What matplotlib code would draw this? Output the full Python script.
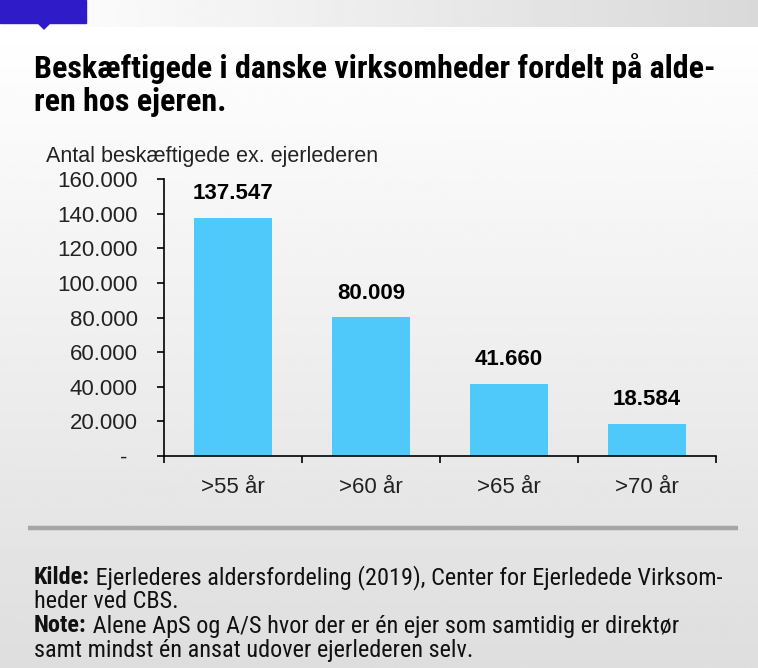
import matplotlib
matplotlib.use("Agg")
import matplotlib.pyplot as plt
import matplotlib.transforms as mtransforms
import numpy as np
from matplotlib.patches import Rectangle, Polygon
from matplotlib.ticker import FixedLocator

categories = [">55 år", ">60 år", ">65 år", ">70 år"]
values = [137547, 80009, 41660, 18584]
value_labels = ["137.547", "80.009", "41.660", "18.584"]
yticks = [0, 20000, 40000, 60000, 80000, 100000, 120000, 140000, 160000]
ytick_labels = ["-", "20.000", "40.000", "60.000", "80.000", "100.000", "120.000", "140.000", "160.000"]

W, H = 758, 668
fig = plt.figure(figsize=(W / 100, H / 100), dpi=100)

# background gradient
bg = fig.add_axes([0, 0, 1, 1], zorder=-10)
bg.set_xlim(0, W)
bg.set_ylim(H, 0)
bg.axis("off")
grad = np.linspace(1.0, 0.87, 256).reshape(-1, 1)
grad = np.concatenate([grad, grad], axis=1)
bg.imshow(grad, cmap="gray", vmin=0, vmax=1, extent=[0, W, H, 27], aspect="auto")
hgrad = np.linspace(1.0, 0.85, 256).reshape(1, -1)
bg.imshow(hgrad, cmap="gray", vmin=0, vmax=1, extent=[0, W, 27, 0], aspect="auto")
bg.add_patch(Rectangle((0, 0), 86, 23, color="#2F1BC8"))
bg.add_patch(Polygon([[38, 23], [50, 23], [44, 29]], closed=True, color="#2F1BC8"))
bg.plot([28, 738], [528, 528], color="#a6a6a6", lw=3.2, solid_capstyle="butt")

cond = ["Roboto Condensed", "Liberation Sans Narrow", "DejaVu Sans"]
fig.text(34 / W, 1 - 69 / H, "Beskæftigede i danske virksomheder fordelt på alde-",
         fontsize=23, fontweight="bold", family=cond, va="center", ha="left")
fig.text(34 / W, 1 - 102 / H, "ren hos ejeren.",
         fontsize=23, fontweight="bold", family=cond, va="center", ha="left")

fig.text(46 / W, 1 - 157 / H, "Antal beskæftigede ex. ejerlederen",
         fontsize=15.5, family=["Liberation Sans"], va="center", ha="left", color="#222222")

ax = fig.add_axes([164 / W, 1 - 456 / H, (716 - 164) / W, (456 - 179) / H])
ax.patch.set_alpha(0)
x = np.arange(len(categories))
ax.bar(x, values, width=0.57, color="#4FC8FA", edgecolor="none")
ax.set_xlim(-0.5, len(categories) - 0.5)
ax.set_ylim(0, 160000)
ax.set_yticks(yticks)
ax.set_yticklabels(ytick_labels, fontsize=16, family="Liberation Sans", color="#222222")
ax.set_xticks(x)
ax.set_xticklabels(categories, fontsize=16, family="Liberation Sans", color="#222222")
ax.tick_params(axis="x", length=0, pad=15)
ax.xaxis.set_minor_locator(FixedLocator(np.arange(-0.5, len(categories), 1.0)))
ax.tick_params(axis="x", which="minor", length=5, width=1.2, color="black")
ax.tick_params(axis="y", length=5, width=1.2, pad=14, color="black")
for s in ["top", "right"]:
    ax.spines[s].set_visible(False)
for s in ["left", "bottom"]:
    ax.spines[s].set_linewidth(1.2)

# shift the zero label ("-") a little to the left as in the original
zero_lab = ax.get_yticklabels()[0]
zero_lab.set_transform(zero_lab.get_transform() +
                       mtransforms.ScaledTranslation(-10 / 100, 0, fig.dpi_scale_trans))

for xi, v, lab in zip(x, values, value_labels):
    ax.annotate(lab, (xi, v), xytext=(0, 10), textcoords="offset points",
                ha="center", va="bottom", fontsize=16, fontweight="bold",
                family="Liberation Sans")

foot = [
    (578, [("Kilde:", "semibold"), (" Ejerlederes aldersfordeling (2019), Center for Ejerledede Virksom-", "normal")]),
    (601, [("heder ved CBS.", "normal")]),
    (626, [("Note:", "semibold"), (" Alene ApS og A/S hvor der er én ejer som samtidig er direktør", "normal")]),
    (651, [("samt mindst én ansat udover ejerlederen selv.", "normal")]),
]
fig.canvas.draw()
r = fig.canvas.get_renderer()
for yy, parts in foot:
    xx = 34
    for txt, wt in parts:
        t = fig.text(xx / W, 1 - yy / H, txt, fontsize=17.5, fontweight=wt, family=cond,
                     va="center", ha="left", color="#111111")
        bb = t.get_window_extent(renderer=r)
        xx += bb.width

fig.savefig("out.png", dpi=100)
